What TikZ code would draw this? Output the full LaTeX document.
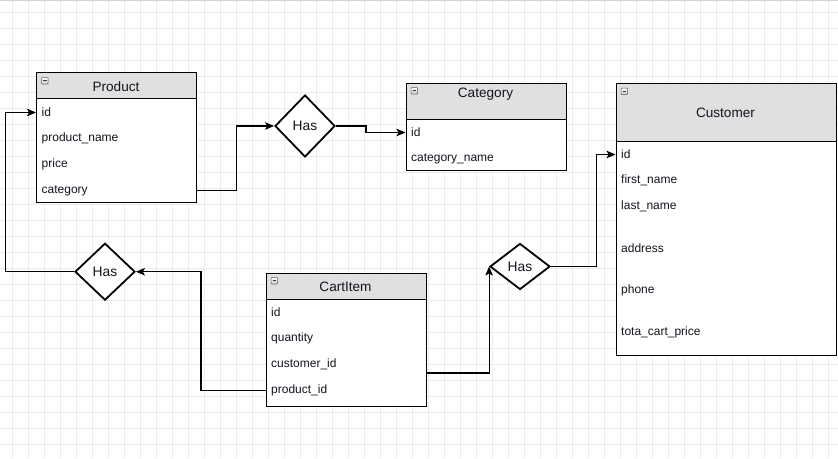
\documentclass[tikz,border=0pt]{standalone}
\usepackage{fontspec}
\setmainfont{Liberation Sans}
\usetikzlibrary{shapes.geometric,arrows.meta,calc}
\definecolor{hdrgray}{HTML}{E0E0E0}
\definecolor{gridc}{HTML}{ECECEC}
\definecolor{txt}{HTML}{141420}
\begin{document}
\begin{tikzpicture}[x=1pt,y=-1pt,
  tbl/.style={draw=black, line width=1.2pt, fill=white, rectangle, inner sep=0pt, anchor=north west},
  hdr/.style={tbl, fill=hdrgray},
  fld/.style={anchor=west, inner sep=0pt, text=txt, yshift=-1pt, font=\fontsize{12}{14}\selectfont},
  ttl/.style={inner sep=0pt, text=txt, yshift=-1pt, font=\fontsize{13.6}{16}\selectfont},
  rel/.style={diamond, draw=black, line width=1.8pt, fill=white, inner sep=0pt, minimum width=60pt,
              text=txt, font=\fontsize{13.8}{16}\selectfont},
  conn/.style={draw=black, line width=1.2pt, -{Stealth[length=9pt,width=7.5pt,inset=2pt]}},
]
\useasboundingbox (0,0) rectangle (838,458);
\fill[white] (0,0) rectangle (838,458);
% background grid
\foreach \i in {0,...,52} \draw[gridc, line width=0.9pt] ({12+16*\i},0) -- ({12+16*\i},458);
\foreach \j in {0,...,28} \draw[gridc, line width=0.9pt] (0,{12+16*\j}) -- (838,{12+16*\j});
\draw[gray!35, line width=1.2pt] (0,0.6) -- (838,0.6);

% collapse icon of a table header
\newcommand{\collapseicon}[2]{%
  \draw[gray!70!black, line width=0.5pt, rounded corners=0.8pt, top color=white, bottom color=gray!45]
    (#1,#2) rectangle ++(6.5,6.5);
  \draw[black!80, line width=0.8pt] ($(#1,#2)+(1.5,3.25)$) -- ++(3.5,0);
}

% Product
\node[tbl, minimum width=160pt, minimum height=130pt] (prodbox) at (36,72) {};
\node[hdr, minimum width=160pt, minimum height=26pt] (prodhdr) at (36,72) {};
\collapseicon{41.5}{77.5}
\node[ttl] (prodttl) at (116,86) {Product};
\node[fld] (pid)   at (41.5,111.5) {id};
\node[fld] (pname) at (41.5,137.5) {product\_name};
\node[fld] (pprice) at (41.5,163.5) {price};
\node[fld] (pcat)  at (41.5,189.5) {category};

% Category
\node[tbl, minimum width=160pt, minimum height=87pt] (catbox) at (405.5,82.5) {};
\node[hdr, minimum width=160pt, minimum height=36pt] (cathdr) at (405.5,82.5) {};
\collapseicon{411}{87.5}
\node[ttl] (catttl) at (485.5,93.5) {Category};
\node[fld] (cid)   at (411,131.5) {id};
\node[fld] (cname) at (411,157.5) {category\_name};

% Customer
\node[tbl, minimum width=220pt, minimum height=272pt] (custbox) at (615.5,82.5) {};
\node[hdr, minimum width=220pt, minimum height=58pt] (custhdr) at (615.5,82.5) {};
\collapseicon{621}{88}
\node[ttl] (custttl) at (725.5,112) {Customer};
\node[fld] (kid)    at (621,153.5) {id};
\node[fld] (kfirst) at (621,179.5) {first\_name};
\node[fld] (klast)  at (621,205.5) {last\_name};
\node[fld] (kaddr)  at (621,247.5) {address};
\node[fld] (kphone) at (621,289.5) {phone};
\node[fld] (ktotal) at (621,331.5) {tota\_cart\_price};

% CartItem
\node[tbl, minimum width=160pt, minimum height=133.5pt] (cartbox) at (265.5,272.5) {};
\node[hdr, minimum width=160pt, minimum height=26pt] (carthdr) at (265.5,272.5) {};
\collapseicon{271}{277.5}
\node[ttl] (cartttl) at (345.5,286) {CartItem};
\node[fld] (ciid)  at (271,311.5) {id};
\node[fld] (cqty)  at (271,337.5) {quantity};
\node[fld] (ccid)  at (271,363.5) {customer\_id};
\node[fld] (cpid)  at (271,389.5) {product\_id};

% relationships
\node[rel, minimum height=57pt] (has1) at (105,271.7) {Has};
\node[rel, minimum height=62pt] (has2) at (305,126) {Has};
\node[rel, minimum height=46pt] (has3) at (520,266.5) {Has};

% connectors
\draw[conn] (prodbox.east |- pcat) -- ++(39.5,0) |- (has2.west);
\draw[conn] (has2.east) -- ++(30,0) |- (catbox.west |- cid);
\draw[conn] (cartbox.west |- cpid) -- ++(-64.5,0) |- (has1.east);
\draw[conn] (has1.west) -- ++(-69,0) |- (prodbox.west |- pid);
\coordinate (cartout) at ($(cartbox.east |- ccid)+(0,8.5)$);
\draw[conn] (cartout) -| (has3.west);
\draw[conn] (has3.east) -- ++(45.5,0) |- (custbox.west |- kid);
\end{tikzpicture}
\end{document}
